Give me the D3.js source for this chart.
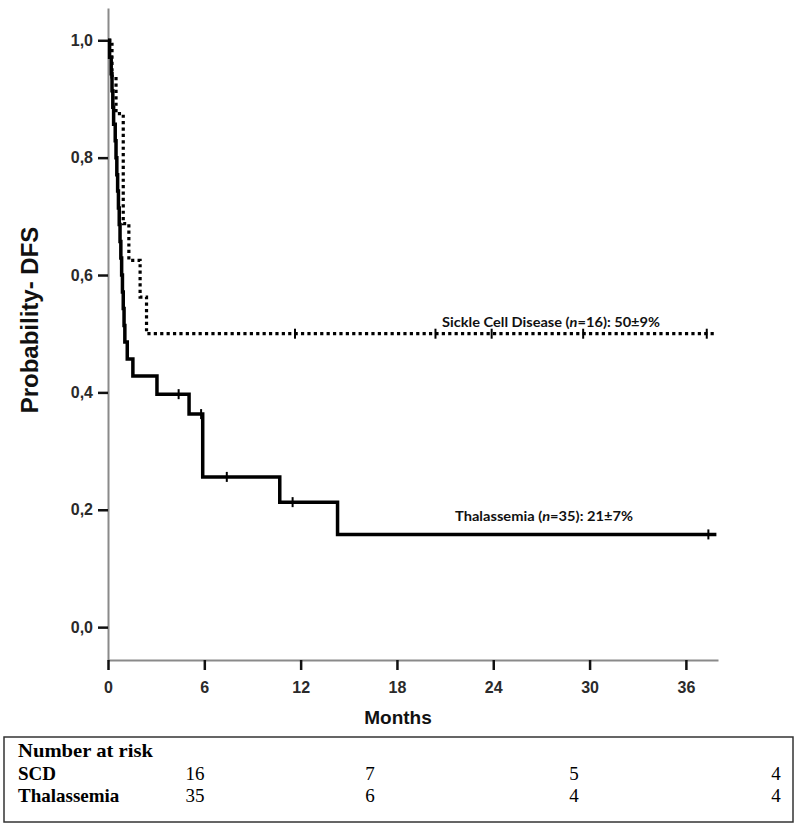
<!DOCTYPE html>
<html>
<head>
<meta charset="utf-8">
<script src="https://cdn.jsdelivr.net/npm/d3@7/dist/d3.min.js"></script>
<style>
  html, body { margin: 0; padding: 0; background: #fff; }
  svg { display: block; }
</style>
</head>
<body>
<svg id="chart" width="800" height="831"></svg>
<script>
// ---------------- data ----------------
const xTicks = [0, 6, 12, 18, 24, 30, 36];
const yTicks = [0, 0.2, 0.4, 0.6, 0.8, 1.0];

// Thalassemia (solid) step curve: event times (months) and survival after each step
const thalTimes = [0, 0.1, 0.2, 0.25, 0.3, 0.35, 0.45, 0.5, 0.55, 0.6, 0.65, 0.7, 0.75, 0.8, 0.85, 0.9, 0.95, 1.0, 1.05, 1.2, 1.55, 3.05, 5.05, 5.9, 10.7, 14.3, 37.9];
const thalSurv  = [1.0, 0.971, 0.943, 0.914, 0.886, 0.857, 0.829, 0.8, 0.771, 0.743, 0.714, 0.686, 0.657, 0.629, 0.6, 0.571, 0.543, 0.514, 0.486, 0.457, 0.428, 0.397, 0.363, 0.256, 0.213, 0.158, 0.158];
const thalCensor = [4.4, 5.8, 7.4, 11.5, 37.4];

// Sickle Cell Disease (dotted)
const scdTimes = [0, 0.25, 0.5, 0.95, 1.3, 2.0, 2.4, 37.9];
const scdSurv  = [1.0, 0.9375, 0.875, 0.6875, 0.625, 0.5625, 0.5, 0.5];
const scdCensor = [11.65, 20.4, 23.9, 29.6, 37.3];

// Number at risk table
const riskGroups = ["SCD", "Thalassemia"];
const riskSCD  = [16, 7, 5, 4];
const riskThal = [35, 6, 4, 4];

// ---------------- layout ----------------
const svg = d3.select("#chart");
const x = d3.scaleLinear().domain([0, 38]).range([108, 718]);
const y = d3.scaleLinear().domain([-0.056, 1.055]).range([660, 8]);

// axes
const yAxis = d3.axisLeft(y).tickValues(yTicks).tickSize(10).tickSizeOuter(0).tickPadding(5)
  .tickFormat(d => d3.format(".1f")(d).replace(".", ","));
const gy = svg.append("g").attr("transform", "translate(108,0)").call(yAxis);
const xAxis = d3.axisBottom(x).tickValues(xTicks).tickSize(10).tickSizeOuter(0).tickPadding(12);
const gx = svg.append("g").attr("transform", "translate(0,660)").call(xAxis);

[gy, gx].forEach(g => {
  g.select(".domain").attr("stroke", "#8a8a8a").attr("stroke-width", 2);
  g.selectAll(".tick line").attr("stroke", "#111").attr("stroke-width", 2.5);
  g.selectAll(".tick text").attr("fill", "#2a2a2a")
    .style("font-family", "'Liberation Sans', Arial, sans-serif")
    .style("font-size", "16px").style("font-weight", "bold");
});

// axis titles
svg.append("text")
  .attr("transform", "translate(38,320) rotate(-90)")
  .attr("text-anchor", "middle")
  .style("font-family", "'Liberation Sans', Arial, sans-serif")
  .style("font-size", "24px").style("font-weight", "bold").attr("fill", "#111")
  .text("Probability- DFS");
svg.append("text")
  .attr("x", 398).attr("y", 724)
  .attr("text-anchor", "middle")
  .style("font-family", "'Liberation Sans', Arial, sans-serif")
  .style("font-size", "19px").style("font-weight", "bold").attr("fill", "#111")
  .text("Months");

// curves
const line = d3.line().x(d => x(d[0])).y(d => y(d[1])).curve(d3.curveStepAfter);
const thalPts = thalTimes.map((t, i) => [t, thalSurv[i]]);
const scdPts = scdTimes.map((t, i) => [t, scdSurv[i]]);

function survAt(times, surv, t) {
  const i = d3.bisectRight(times, t) - 1;
  return surv[Math.max(0, i)];
}

svg.append("path").datum(thalPts).attr("d", line)
  .attr("fill", "none").attr("stroke", "#000").attr("stroke-width", 3.5);
svg.append("path").datum(scdPts).attr("d", line)
  .attr("fill", "none").attr("stroke", "#000").attr("stroke-width", 3.2)
  .attr("stroke-dasharray", "3.2,3.2");

// censor marks
function censors(times, surv, cens) {
  svg.append("g").selectAll("line").data(cens).join("line")
    .attr("x1", d => x(d)).attr("x2", d => x(d))
    .attr("y1", d => y(survAt(times, surv, d)) - 5)
    .attr("y2", d => y(survAt(times, surv, d)) + 5)
    .attr("stroke", "#000").attr("stroke-width", 2);
}
censors(thalTimes, thalSurv, thalCensor);
censors(scdTimes, scdSurv, scdCensor);

// curve labels
function label(xp, yp, pre, post, len) {
  const t = svg.append("text").attr("x", xp).attr("y", yp)
    .attr("textLength", len).attr("lengthAdjust", "spacingAndGlyphs")
    .style("font-family", "Lato, 'Open Sans', sans-serif")
    .style("font-size", "13px").style("font-weight", "bold").attr("fill", "#111");
  t.append("tspan").text(pre);
  t.append("tspan").style("font-style", "italic").text("n");
  t.append("tspan").text(post);
}
label(442, 327, "Sickle Cell Disease (", "=16): 50±9%", 218);
label(455, 521, "Thalassemia (", "=35): 21±7%", 178);

// number at risk table
const tbl = svg.append("g");
tbl.append("rect").attr("x", 4).attr("y", 737).attr("width", 789).attr("height", 85)
  .attr("fill", "none").attr("stroke", "#333").attr("stroke-width", 1.5);
const serif = "'Liberation Serif', 'Times New Roman', serif";
tbl.append("text").attr("x", 18).attr("y", 757)
  .style("font-family", serif).style("font-size", "19px").style("font-weight", "bold")
  .attr("textLength", 135).attr("lengthAdjust", "spacingAndGlyphs")
  .text("Number at risk");
const colX = [195, 370, 574, 776];
const rowY = [780, 802];
[riskSCD, riskThal].forEach((row, r) => {
  tbl.append("text").attr("x", 18).attr("y", rowY[r])
    .style("font-family", serif).style("font-size", "19px").style("font-weight", "bold")
    .text(riskGroups[r]);
  row.forEach((v, c) => {
    tbl.append("text").attr("x", colX[c]).attr("y", rowY[r]).attr("text-anchor", "middle")
      .style("font-family", serif).style("font-size", "19px")
      .text(v);
  });
});
</script>
</body>
</html>
